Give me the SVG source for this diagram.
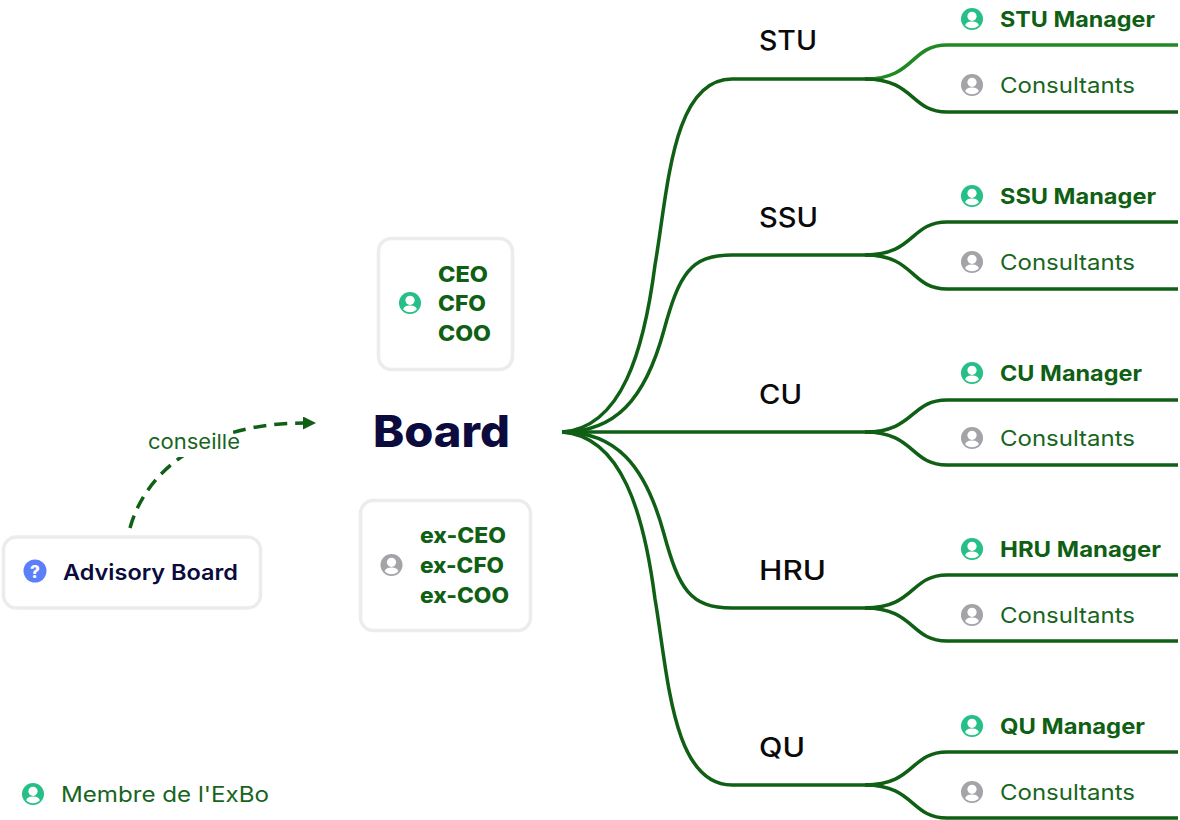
<svg xmlns="http://www.w3.org/2000/svg" width="1180" height="820" viewBox="0 0 1180 820">
<style>
text{font-family:"Inter","Liberation Sans",sans-serif}
.box{fill:#fff;stroke:#ececec;stroke-width:3.5}
.ln{fill:none;stroke:#0f5f14;stroke-width:3.5}
.hi{stroke:#1f8a24}
.unit{font-size:27px;font-weight:500;fill:#0a0a0a}
.mgr{font-size:21.5px;font-weight:700;fill:#0f5f14}
.con{font-size:21.5px;font-weight:400;fill:#17651c}
.role{font-size:21.5px;font-weight:800;fill:#0f5f14}
.g{color:#26bf87}.y{color:#a3a3a8}
</style>
<defs>
<symbol id="person" viewBox="0 0 24 24" overflow="visible">
<circle cx="12" cy="12" r="11.5" fill="currentColor"/>
<circle cx="12" cy="9.200" r="4.800" fill="#fff"/>
<path d="M4.800 18.600C6 15.200 9 14.600 12 14.600S18 15.200 19.200 18.600C17.400 20.600 14.800 21.600 12 21.600S6.600 20.600 4.800 18.600Z" fill="#fff"/>
</symbol>
<marker id="arrow" markerUnits="userSpaceOnUse" markerWidth="14" markerHeight="14" refX="1" refY="6.500" orient="auto"><path d="M0 0L13 6.500L0 13Z" fill="#0f5f14"/></marker>
</defs>
<rect width="1180" height="820" fill="#fff"/>
<g id="connectors">
<path class="ln" d="M562 432C622 428 644 350 655 265C668 190 672 79 732 79H875"/>
<path class="ln" d="M562 432C615 432 645 400 664 330C679 275 690 255 732 255H875"/>
<path class="ln" d="M562 432H875"/>
<path class="ln" d="M562 432C615 432 645 464 664 534C679 589 690 608 732 608H875"/>
<path class="ln" d="M562 432C622 436 644 514 655 599C668 674 672 785 732 785H875"/>
<path class="ln hi" d="M865 79C915 79 910 45 947 45H1178"/>
<path class="ln" d="M865 79C915 79 910 112 947 112H1178"/>
<path class="ln" d="M865 255C915 255 910 222 947 222H1178"/>
<path class="ln" d="M865 255C915 255 910 289 947 289H1178"/>
<path class="ln" d="M865 432C915 432 910 400 947 400H1178"/>
<path class="ln" d="M865 432C915 432 910 465 947 465H1178"/>
<path class="ln" d="M865 608C915 608 910 575 947 575H1178"/>
<path class="ln" d="M865 608C915 608 910 641 947 641H1178"/>
<path class="ln" d="M865 785C915 785 910 752 947 752H1178"/>
<path class="ln" d="M865 785C915 785 910 818 947 818H1178"/>
<path id="conseille-link" d="M130 528C146 470 205 423 304 423" fill="none" stroke="#0f5f14" stroke-width="3.500" stroke-dasharray="13 8" marker-end="url(#arrow)"/>
<rect x="146" y="428" width="87" height="29" fill="#fff"/>
<text x="148" y="449" font-size="20.500" fill="#17651c" textLength="92" lengthAdjust="spacingAndGlyphs">conseille</text>
</g>
<g id="board"><text x="373" y="447" font-size="44" font-weight="800" fill="#0b0b3d" textLength="137" lengthAdjust="spacingAndGlyphs">Board</text></g>
<g id="execs">
<rect class="box" x="378.500" y="238.500" width="134" height="131" rx="13"/>
<use href="#person" class="g" x="398.500" y="291.500" width="23" height="23"/>
<text class="role" x="438" y="282" textLength="50" lengthAdjust="spacingAndGlyphs">CEO</text>
<text class="role" x="438" y="311" textLength="48" lengthAdjust="spacingAndGlyphs">CFO</text>
<text class="role" x="438" y="341" textLength="53" lengthAdjust="spacingAndGlyphs">COO</text>
</g>
<g id="former-execs">
<rect class="box" x="360.500" y="500.500" width="170" height="130" rx="13"/>
<use href="#person" class="y" x="380" y="553.500" width="23" height="23"/>
<text class="role" x="420" y="543" textLength="86" lengthAdjust="spacingAndGlyphs">ex-CEO</text>
<text class="role" x="420" y="573" textLength="84" lengthAdjust="spacingAndGlyphs">ex-CFO</text>
<text class="role" x="420" y="603" textLength="89" lengthAdjust="spacingAndGlyphs">ex-COO</text>
</g>
<g id="advisory-board">
<rect class="box" x="3.500" y="537" width="257" height="71" rx="13"/>
<circle cx="35" cy="571" r="11.500" fill="#5b7ffb"/>
<text x="35" y="577.500" font-size="17" font-weight="800" fill="#fff" text-anchor="middle">?</text>
<text x="63" y="580" font-size="21.500" font-weight="600" fill="#0b0b3d" textLength="175" lengthAdjust="spacingAndGlyphs">Advisory Board</text>
</g>
<g id="stu">
<text class="unit" x="759" y="50" textLength="58" lengthAdjust="spacingAndGlyphs">STU</text>
<use href="#person" class="g" x="960.500" y="7.500" width="23" height="23"/>
<text class="mgr" x="1000" y="27" textLength="155" lengthAdjust="spacingAndGlyphs">STU Manager</text>
<use href="#person" class="y" x="960.500" y="73.500" width="23" height="23"/>
<text class="con" x="1000" y="93" textLength="135" lengthAdjust="spacingAndGlyphs">Consultants</text>
</g>
<g id="ssu">
<text class="unit" x="759" y="227" textLength="59" lengthAdjust="spacingAndGlyphs">SSU</text>
<use href="#person" class="g" x="960.500" y="184.500" width="23" height="23"/>
<text class="mgr" x="1000" y="204" textLength="156" lengthAdjust="spacingAndGlyphs">SSU Manager</text>
<use href="#person" class="y" x="960.500" y="250.500" width="23" height="23"/>
<text class="con" x="1000" y="270" textLength="135" lengthAdjust="spacingAndGlyphs">Consultants</text>
</g>
<g id="cu">
<text class="unit" x="759" y="404" textLength="43" lengthAdjust="spacingAndGlyphs">CU</text>
<use href="#person" class="g" x="960.500" y="361.500" width="23" height="23"/>
<text class="mgr" x="1000" y="381" textLength="142" lengthAdjust="spacingAndGlyphs">CU Manager</text>
<use href="#person" class="y" x="960.500" y="426.500" width="23" height="23"/>
<text class="con" x="1000" y="446" textLength="135" lengthAdjust="spacingAndGlyphs">Consultants</text>
</g>
<g id="hru">
<text class="unit" x="759" y="580" textLength="67" lengthAdjust="spacingAndGlyphs">HRU</text>
<use href="#person" class="g" x="960.500" y="537.500" width="23" height="23"/>
<text class="mgr" x="1000" y="557" textLength="161" lengthAdjust="spacingAndGlyphs">HRU Manager</text>
<use href="#person" class="y" x="960.500" y="603.500" width="23" height="23"/>
<text class="con" x="1000" y="623" textLength="135" lengthAdjust="spacingAndGlyphs">Consultants</text>
</g>
<g id="qu">
<text class="unit" x="759" y="757" textLength="46" lengthAdjust="spacingAndGlyphs">QU</text>
<use href="#person" class="g" x="960.500" y="714.500" width="23" height="23"/>
<text class="mgr" x="1000" y="734" textLength="145" lengthAdjust="spacingAndGlyphs">QU Manager</text>
<use href="#person" class="y" x="960.500" y="780.500" width="23" height="23"/>
<text class="con" x="1000" y="800" textLength="135" lengthAdjust="spacingAndGlyphs">Consultants</text>
</g>
<g id="legend">
<use href="#person" class="g" x="21.500" y="782.500" width="23" height="23"/>
<text x="61" y="802" font-size="21.500" fill="#17651c" textLength="208" lengthAdjust="spacingAndGlyphs">Membre de l'ExBo</text>
</g>
</svg>
